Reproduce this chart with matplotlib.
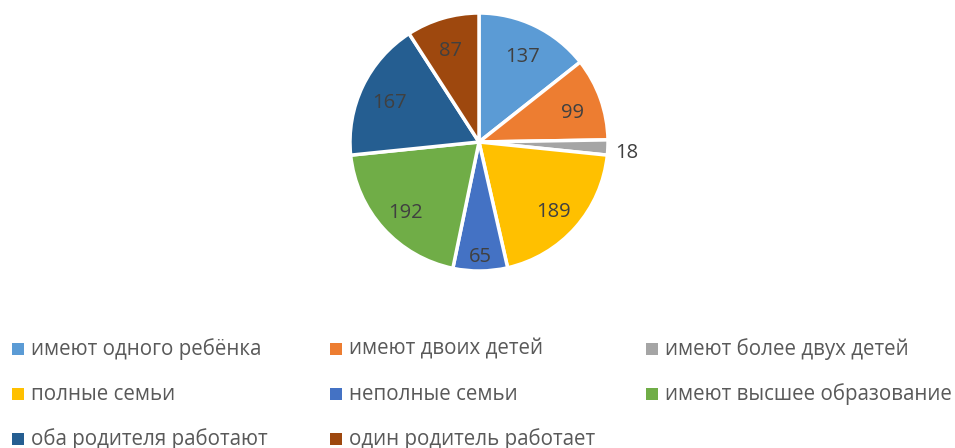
import matplotlib.pyplot as plt
import matplotlib.patches as mpatches
import numpy as np

categories = [
    "имеют одного ребёнка",
    "имеют двоих детей",
    "имеют более двух детей",
    "полные семьи",
    "неполные семьи",
    "имеют высшее образование",
    "оба родителя работают",
    "один родитель работает",
]
values = [137, 99, 18, 189, 65, 192, 167, 87]
colors = ["#5B9BD5", "#ED7D31", "#A5A5A5", "#FFC000",
          "#4472C4", "#70AD47", "#255E91", "#9E480E"]

plt.rcParams["font.family"] = ["Open Sans", "DejaVu Sans"]

W, H = 955, 448
fig = plt.figure(figsize=(W / 100, H / 100), dpi=100)

# pie placed in pixel terms: centre (479, 142), radius 129
cx, cy, r = 479, 142, 129
ax = fig.add_axes([(cx - r) / W, (H - cy - r) / H, 2 * r / W, 2 * r / H])
wedges, _ = ax.pie(values, colors=colors, startangle=90, counterclock=False,
                   radius=1, wedgeprops=dict(edgecolor="white", linewidth=2.5))
ax.set_xlim(-1, 1)
ax.set_ylim(-1, 1)
ax.axis("off")

# data labels, "best fit": narrow slices pushed outward, tiny one outside
total = sum(values)
start = 90.0
for v, w in zip(values, wedges):
    share = v / total
    sweep = share * 360
    mid = np.deg2rad(start - sweep / 2)
    start -= sweep
    if share < 0.03:
        d = 1.15
    elif share < 0.08:
        d = 0.86
    else:
        d = 0.77
    ax.annotate(str(v), (d * np.cos(mid), d * np.sin(mid)),
                xytext=(0, -3), textcoords="offset points",
                ha="center", va="center", fontsize=14.5, color="#404040",
                annotation_clip=False)

# legend, 3 columns
col_x = [18, 336, 652]
row_y = [349, 394, 439]
sq = 12.5
for i, (lab, c) in enumerate(zip(categories, colors)):
    x = col_x[i % 3]
    y = row_y[i // 3]
    fig.add_artist(mpatches.Rectangle(((x - sq / 2) / W, (H - y - sq / 2) / H),
                                      sq / W, sq / H, transform=fig.transFigure,
                                      facecolor=c, edgecolor="none"))
    fig.text((x + 13) / W, (H - y) / H, lab, ha="left", va="center",
             fontsize=14.8, color="#595959")

fig.savefig("out.png", dpi=100)
